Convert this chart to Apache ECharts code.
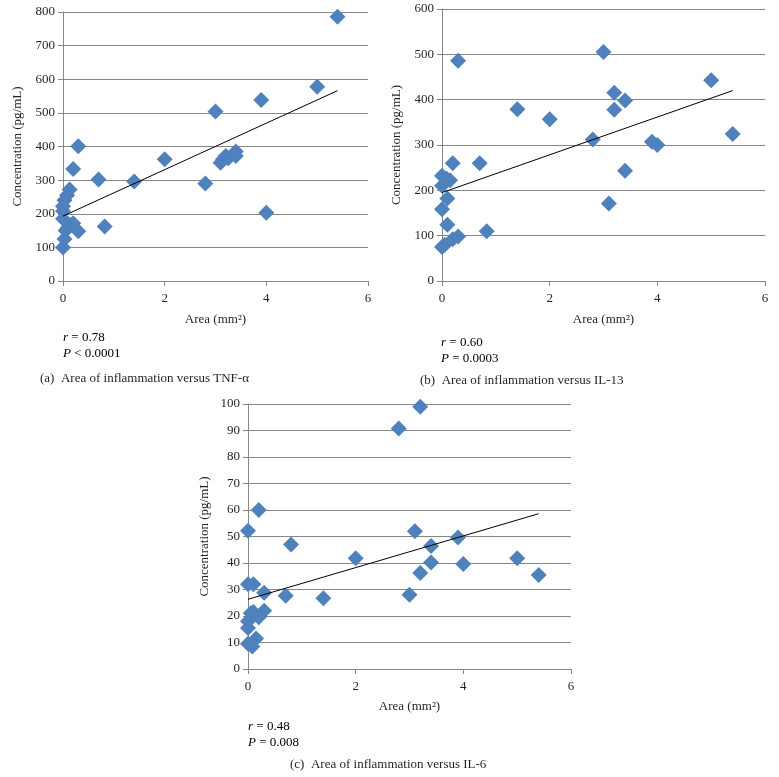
<!DOCTYPE html>
<html>
<head>
<meta charset="utf-8">
<script src="https://cdn.jsdelivr.net/npm/echarts@6/dist/echarts.min.js"></script>
<style>html,body{margin:0;padding:0;background:#fff;}#c{width:779px;height:777px;}</style>
</head>
<body>
<div id="c"></div>
<script>
// ---- data ----
const tnfPoints = [
  [0,100],[0.03,125],[0.05,150],[0.1,160],[0.15,166],[0.2,172],[0.3,148],[0,185],[0,208],[0,222],
  [0.03,240],[0.08,255],[0.13,272],[0.2,333],[0.3,401],[0.7,302],[0.82,162],[1.4,296],[2.0,362],
  [2.8,290],[3.0,504],[3.1,352],[3.15,362],[3.2,372],[3.25,365],[3.4,385],[3.4,372],[3.9,538],
  [4.0,203],[5.0,578],[5.4,786]
];
const tnfTrend = [[0,193],[5.4,566]];

const il13Points = [
  [0,75],[0.05,80],[0.2,92],[0.3,98],[0.1,124],[0,158],[0.1,182],[0,210],[0.15,222],[0.08,226],
  [0,232],[0.2,260],[0.3,486],[0.7,260],[0.83,110],[1.4,379],[2.0,357],[2.8,312],[3.0,505],
  [3.1,171],[3.2,415],[3.2,378],[3.4,398],[3.4,243],[3.9,307],[4.0,300],[5.0,443],[5.4,324]
];
const il13Trend = [[0,195],[5.4,420]];

const il6Points = [
  [0,52.2],[0.2,60],[0,32],[0.1,32],[0.3,28.8],[0.7,27.6],[0.05,21],[0.1,21.5],[0.3,22],[0.2,19.5],
  [0,18],[0,15.5],[0.15,11.5],[0,9.5],[0.08,8.5],[0.8,47],[1.4,26.7],[2.0,41.8],[2.8,90.8],
  [3.0,28],[3.1,52],[3.2,99],[3.2,36.2],[3.4,46.4],[3.4,40.2],[3.9,49.6],[4.0,39.6],[5.0,41.8],[5.4,35.5]
];
const il6Trend = [[0,26.3],[5.4,58.6]];

const xTicks = [0, 2, 4, 6];
const yRangeA = [0, 800, 100];
const yRangeB = [0, 600, 100];
const yRangeC = [0, 100, 10];

const xName = 'Area (mm\u00B2)';
const yName = 'Concentration (pg/mL)';
const statsA = ['r = 0.78', 'P < 0.0001'];
const statsB = ['r = 0.60', 'P = 0.0003'];
const statsC = ['r = 0.48', 'P = 0.008'];
const captionA = '(a)  Area of inflammation versus TNF-\u03B1';
const captionB = '(b)  Area of inflammation versus IL-13';
const captionC = '(c)  Area of inflammation versus IL-6';

// ---- styling ----
const FONT = '"Liberation Serif", "DejaVu Serif", serif';
const TXT = '#231f20';
const GRIDC = '#868686';
const BLUE = '#4f81bd';
const FS = 13;

function xAxis(gridIndex, nameGap) {
  return {
    type: 'value', gridIndex, min: 0, max: 6, interval: 2,
    name: xName, nameLocation: 'middle', nameGap,
    nameTextStyle: {fontFamily: FONT, fontSize: FS, color: TXT},
    axisLine: {lineStyle: {color: GRIDC, width: 1}},
    axisTick: {show: true, length: 5, lineStyle: {color: GRIDC}},
    axisLabel: {fontFamily: FONT, fontSize: FS, color: TXT, margin: 11,
      formatter: v => xTicks.includes(v) ? String(v) : ''},
    splitLine: {show: false}
  };
}
function yAxis(gridIndex, range, nameGap) {
  return {
    type: 'value', gridIndex, min: range[0], max: range[1], interval: range[2],
    name: yName, nameLocation: 'middle', nameGap,
    nameTextStyle: {fontFamily: FONT, fontSize: FS, color: TXT},
    axisLine: {show: true, lineStyle: {color: GRIDC, width: 1}},
    axisTick: {show: true, length: 5, lineStyle: {color: GRIDC}},
    axisLabel: {fontFamily: FONT, fontSize: FS, color: TXT, margin: 8},
    splitLine: {show: true, lineStyle: {color: GRIDC, width: 1}}
  };
}
function scatter(i, data) {
  return {type: 'scatter', xAxisIndex: i, yAxisIndex: i, data, symbol: 'diamond',
    symbolSize: 16, itemStyle: {color: BLUE, opacity: 1}, z: 3};
}
function trend(i, data) {
  return {type: 'line', xAxisIndex: i, yAxisIndex: i, data, symbol: 'none',
    lineStyle: {color: '#000', width: 1}, z: 4, animation: false};
}
const rich = {
  i: {fontFamily: FONT, fontSize: FS, fontStyle: 'italic', color: TXT},
  n: {fontFamily: FONT, fontSize: FS, color: TXT}
};
function statText(str, left, top) {
  const parts = str.split(' ');
  return {type: 'text', left, top, style: {
    text: '{i|' + parts[0] + '}{n| ' + parts.slice(1).join(' ') + '}', rich}};
}
function captionText(str, left, top) {
  return {type: 'text', left, top, style: {text: str, fontFamily: FONT, fontSize: FS, fill: TXT}};
}

const chart = echarts.init(document.getElementById('c'), null, {renderer: 'canvas'});
chart.setOption({
  animation: false,
  backgroundColor: '#fff',
  grid: [
    {left: 63, top: 12, width: 305, height: 269},
    {left: 442, top: 9, width: 323, height: 272},
    {left: 248, top: 404, width: 323, height: 265}
  ],
  xAxis: [xAxis(0, 32), xAxis(1, 32), xAxis(2, 31)],
  yAxis: [yAxis(0, yRangeA, 39), yAxis(1, yRangeB, 39), yAxis(2, yRangeC, 37)],
  series: [
    scatter(0, tnfPoints), trend(0, tnfTrend),
    scatter(1, il13Points), trend(1, il13Trend),
    scatter(2, il6Points), trend(2, il6Trend)
  ],
  graphic: [
    statText(statsA[0], 63, 331), statText(statsA[1], 63, 347),
    captionText(captionA, 40, 372),
    statText(statsB[0], 441, 336), statText(statsB[1], 441, 352),
    captionText(captionB, 420, 374),
    statText(statsC[0], 248, 720), statText(statsC[1], 248, 736),
    captionText(captionC, 290, 758)
  ]
});
</script>
</body>
</html>
